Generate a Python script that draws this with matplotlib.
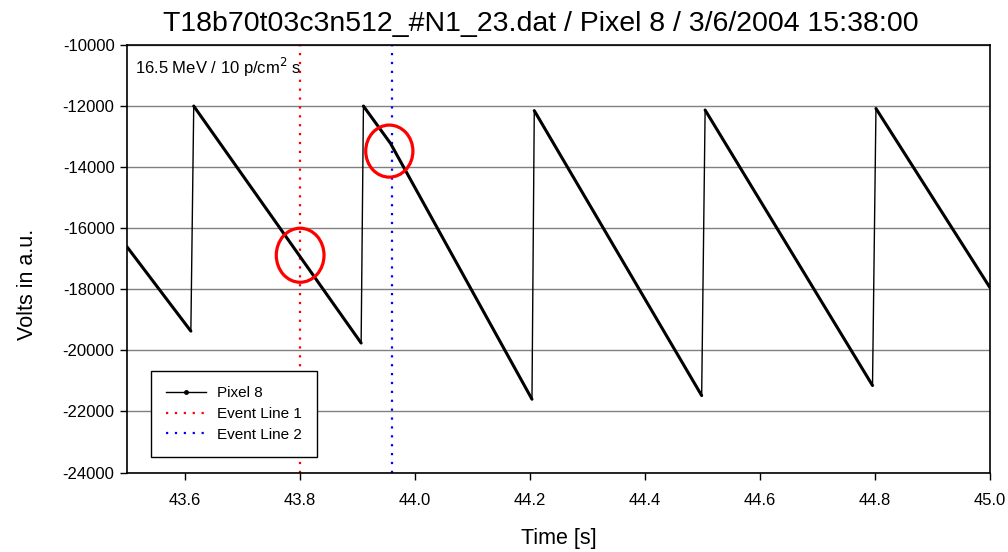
import numpy as np
import matplotlib
matplotlib.use('Agg')
import matplotlib.pyplot as plt
from matplotlib.patches import Ellipse
from matplotlib.lines import Line2D

plt.rcParams['font.family'] = ['Liberation Sans', 'DejaVu Sans']
plt.rcParams['axes.unicode_minus'] = False

# Pixel 8 signal (time in s, volts in a.u.)
time = [43.500, 43.611, 43.616, 43.907, 43.911, 43.958, 44.204, 44.208, 44.499,
        44.505, 44.796, 44.802, 45.000]
volts = [-16610, -19370, -12000, -19760, -12000, -13220, -21600, -12150, -21480,
         -12130, -21150, -12080, -17940]

event_line_1 = 43.80
event_line_2 = 43.96

title = 'T18b70t03c3n512_#N1_23.dat / Pixel 8 / 3/6/2004 15:38:00'
note = '16.5 MeV / 10 p/cm$^2$ s'

# red circles marking the crossings: (centre t, centre v, width s, height v)
circles = [(43.801, -16885, 0.083, 1770), (43.956, -13475, 0.082, 1705)]

t = np.array(time)
v = np.array(volts)

fig = plt.figure(figsize=(10.08, 5.52), dpi=100)
ax = fig.add_axes([0.126, 0.144, 0.856, 0.7745])

# thin line through everything (incl. the reset jumps)
ax.plot(t, v, color='black', lw=1.0, zorder=3)
# the ramps look thick because of the dense dot markers
breaks = np.where(np.diff(v) > 0)[0] + 1
for seg_t, seg_v in zip(np.split(t, breaks), np.split(v, breaks)):
    ax.plot(seg_t, seg_v, color='black', lw=2.2, solid_capstyle='round', zorder=3)

ax.axvline(event_line_1, color='red', lw=1.6, linestyle=(0, (1, 3)), zorder=2)
ax.axvline(event_line_2, color='blue', lw=1.6, linestyle=(0, (1, 3)), zorder=2)

for cx, cy, w, h in circles:
    ax.add_patch(Ellipse((cx, cy), w, h, fill=False, edgecolor='red', lw=2.3, zorder=4))

ax.set_xlim(43.5, 45.0)
ax.set_ylim(-24000, -10000)
ax.set_xticks(np.arange(43.6, 45.01, 0.2))
ax.set_xticklabels([f'{x:.1f}' for x in np.arange(43.6, 45.01, 0.2)])
ax.set_yticks(np.arange(-24000, -9999, 2000))
ax.yaxis.grid(True, color='#808080', lw=1.0)
ax.set_axisbelow(True)
ax.tick_params(direction='out', length=5, width=1, labelsize=12, pad=4)
ax.tick_params(axis='x', pad=10)
for s in ax.spines.values():
    s.set_linewidth(1.2)

ax.set_xlabel('Time [s]', fontsize=15.5, labelpad=14)
ax.set_ylabel('Volts in a.u.', fontsize=15.5)
ax.yaxis.set_label_coords(-0.103, 0.44)
ax.set_title(title, fontsize=20.5, pad=10, x=0.48)

ax.text(0.009, 0.975, note, transform=ax.transAxes, fontsize=12, va='top', ha='left')

handles = [Line2D([], [], color='black', lw=1, marker='o', markersize=2.5),
           Line2D([], [], color='red', lw=1.6, linestyle=(0, (1, 3))),
           Line2D([], [], color='blue', lw=1.6, linestyle=(0, (1, 3)))]
leg = ax.legend(handles, ['Pixel 8', 'Event Line 1', 'Event Line 2'],
                loc='lower left', bbox_to_anchor=(0.028, 0.036), fontsize=11,
                fancybox=False, framealpha=1, edgecolor='black',
                handlelength=2.6, handletextpad=0.7, borderpad=1.0,
                labelspacing=0.45, borderaxespad=0)
leg.get_frame().set_linewidth(1.0)

fig.savefig('out.png', dpi=100)
